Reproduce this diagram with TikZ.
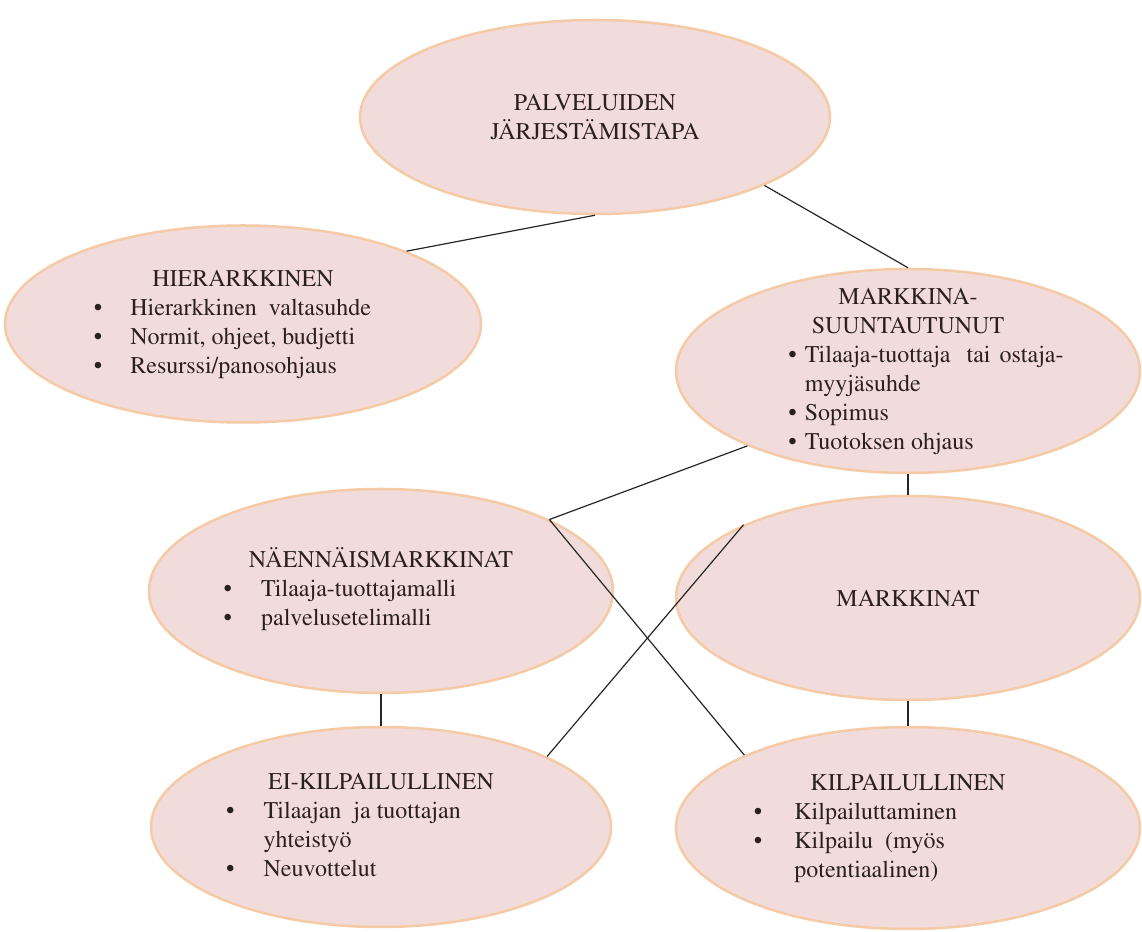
\documentclass[tikz,border=0pt]{standalone}
\usepackage[T1]{fontenc}
\usepackage{mathptmx}
\usetikzlibrary{shapes}

\definecolor{bubblefill}{HTML}{F2DCDB}
\definecolor{bubbleline}{HTML}{F5CAA6}
\definecolor{bubbletext}{HTML}{2A2020}

\begin{document}
\begin{tikzpicture}[x=1pt, y=1pt, node distance=230pt]
  \tikzstyle{bubble} = [ellipse, draw=bubbleline, line width=2.5pt, fill=bubblefill,
    minimum width=464pt, minimum height=204pt, inner sep=-40pt,
    text=bubbletext, font=\fontsize{24}{29}\selectfont, align=center]
  \tikzstyle{line} = [draw, line width=1.2pt, black!85]

  \useasboundingbox (0,0) rectangle (1142,931);

  % Place nodes
  \node [bubble, minimum width=470pt, minimum height=194pt] (top) at (595,814)
    {PALVELUIDEN\\J\"ARJEST\"AMISTAPA};

  \node [bubble, minimum width=476pt, minimum height=197pt] (hier) at (243,607)
    {\begin{tabular}{@{}l@{\hspace{28pt}}l@{\hspace{21pt}}}
      \multicolumn{2}{c}{HIERARKKINEN}\\
      \textbullet & Hierarkkinen\ \ valtasuhde\\
      \textbullet & Normit, ohjeet, budjetti\\
      \textbullet & Resurssi/panosohjaus
    \end{tabular}};

  \node [bubble] (mark) at (908,560)
    {\begin{tabular}{@{\hspace{36pt}}l@{\hspace{8pt}}l@{}}
      \multicolumn{2}{c}{MARKKINA-}\\
      \multicolumn{2}{c}{SUUNTAUTUNUT}\\
      \textbullet & Tilaaja-tuottaja\hspace{16pt}tai\hspace{9pt}ostaja-\\
                  & myyj\"asuhde\\
      \textbullet & Sopimus\\
      \textbullet & Tuotoksen ohjaus
    \end{tabular}};

  \node [bubble, below of=mark, node distance=227pt] (mkt) {MARKKINAT};

  \node [bubble] (naen) at (381,340)
    {\begin{tabular}{@{}l@{\hspace{29pt}}l@{\hspace{82pt}}}
      \multicolumn{2}{c}{N\"AENN\"AISMARKKINAT}\\
      \textbullet & Tilaaja-tuottajamalli\\
      \textbullet & palvelusetelimalli
    \end{tabular}};

  \node [bubble, minimum width=460pt, minimum height=200pt,
    below of=naen, node distance=236pt] (ei)
    {\begin{tabular}{@{}l@{\hspace{29pt}}l@{\hspace{75pt}}}
      \multicolumn{2}{c}{EI-KILPAILULLINEN}\\
      \textbullet & Tilaajan\ \ ja tuottajan\\
                  & yhteisty\"o\\
      \textbullet & Neuvottelut
    \end{tabular}};

  \node [bubble, minimum height=202pt, below of=mkt] (kil)
    {\begin{tabular}{@{}l@{\hspace{32pt}}l@{\hspace{105pt}}}
      \multicolumn{2}{c}{KILPAILULLINEN}\\
      \textbullet & Kilpailuttaminen\\
      \textbullet & Kilpailu\ \ (my\"os\\
                  & potentiaalinen)
    \end{tabular}};

  % Draw edges
  \path [line] (top.south) -- (hier.24);
  \path [line] (top.-22) -- (mark.north);
  \path [line] (mark.-155) -- (naen.23);
  \path [line] (naen.23) -- (kil.156);
  \path [line] (mkt.156) -- (ei.23);

  \path [line] (mark.south) -- (mkt.north);
  \path [line] (mkt.south) -- (kil.north);
  \path [line] (naen.south) -- (ei.north);
\end{tikzpicture}
\end{document}
